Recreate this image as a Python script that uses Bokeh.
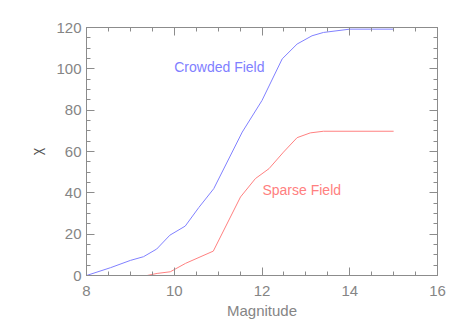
from bokeh.plotting import figure
from bokeh.models import Range1d, LinearAxis, SingleIntervalTicker, ColumnDataSource, CustomJSTickFormatter
from bokeh.core.properties import value
from bokeh.embed import file_html
from bokeh.resources import INLINE

crowded_mag = [8.0, 8.55, 9.0, 9.3, 9.6, 9.9, 10.25, 10.56, 10.9, 11.55, 12.0, 12.46, 12.8, 13.14, 13.4, 14.0, 15.0]
crowded_chi = [0.0, 3.8, 7.3, 9.1, 12.8, 19.5, 23.9, 32.9, 42.0, 69.4, 84.7, 104.8, 112.0, 116.0, 117.6, 119.2, 119.2]

sparse_mag = [8.0, 9.38, 9.61, 9.91, 10.26, 10.89, 11.51, 11.85, 12.16, 12.49, 12.8, 13.1, 13.4, 15.0]
sparse_chi = [0.0, 0.0, 1.0, 1.8, 5.9, 11.8, 38.0, 46.9, 51.7, 59.7, 66.7, 69.0, 69.8, 69.8]

x_ticks_interval = 2
y_ticks_interval = 20

label_texts = ["Crowded Field", "Sparse Field"]
label_x = [10.0, 12.01]
label_y = [101.0, 41.2]

BLUE = "#8080ff"
RED = "#ff8080"
AXIS = "#8c8c8c"
FONT = "Liberation Sans"

p = figure(width=456, height=322, output_backend="svg", toolbar_location=None,
           x_range=Range1d(8, 16), y_range=Range1d(0, 120),
           min_border_left=86, min_border_right=19, min_border_top=27, min_border_bottom=47,
           x_axis_label="Magnitude", y_axis_label="\u03c7")
p.xgrid.visible = False
p.ygrid.visible = False
p.outline_line_color = AXIS
p.background_fill_color = "white"
p.border_fill_color = "white"

p.xaxis.ticker = SingleIntervalTicker(interval=x_ticks_interval, num_minor_ticks=4)
p.yaxis.ticker = SingleIntervalTicker(interval=y_ticks_interval, num_minor_ticks=4)


def style(ax):
    ax.axis_line_color = AXIS
    ax.major_tick_line_color = AXIS
    ax.minor_tick_line_color = AXIS
    ax.major_tick_in = 8
    ax.major_tick_out = 0
    ax.minor_tick_in = 4
    ax.minor_tick_out = 0
    ax.major_label_text_font = FONT
    ax.major_label_text_font_size = "15px"
    ax.major_label_text_color = "#858585"
    ax.axis_label_text_font = FONT
    ax.axis_label_text_font_size = "15px"
    ax.axis_label_text_font_style = "normal"
    ax.axis_label_text_color = "#858585"


for ax in p.xaxis:
    style(ax)
    ax.major_label_standoff = 10
    ax.axis_label_standoff = 3
for ax in p.yaxis:
    style(ax)
    ax.major_label_standoff = 5
    ax.axis_label_standoff = 8
    ax.axis_label_text_font_size = "14px"
    ax.axis_label_text_color = "#555555"

blank = CustomJSTickFormatter(code="return ''")
top = LinearAxis(ticker=SingleIntervalTicker(interval=x_ticks_interval, num_minor_ticks=4), formatter=blank)
style(top)
top.major_label_standoff = 0
p.add_layout(top, "above")
right = LinearAxis(ticker=SingleIntervalTicker(interval=y_ticks_interval, num_minor_ticks=4), formatter=blank)
style(right)
right.major_label_standoff = 0
p.add_layout(right, "right")

p.line(crowded_mag, crowded_chi, line_color=BLUE, line_width=1)
p.line(sparse_mag, sparse_chi, line_color=RED, line_width=1)

src = ColumnDataSource(dict(x=label_x, y=label_y, t=label_texts, c=[BLUE, RED]))
p.text(x="x", y="y", text="t", text_color="c", source=src,
       text_font=value(FONT), text_font_size="14px", text_baseline="middle", text_align="left")

open("out.html", "w").write(file_html(p, INLINE))
